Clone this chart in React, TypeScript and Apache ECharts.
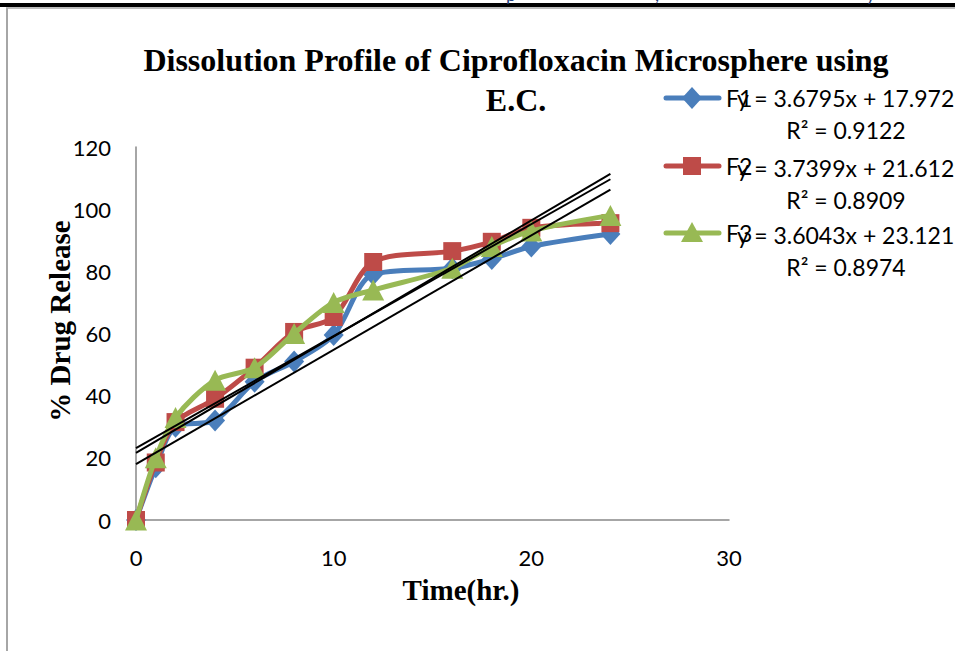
import React, { useEffect, useRef } from 'react';
import * as echarts from 'echarts';

// Sampling times (hours)
const TIME_HR = [0, 1, 2, 4, 6, 8, 10, 12, 16, 18, 20, 24];

// Cumulative % drug release for each formulation
const F1 = [0, 17, 30, 32, 44.5, 51, 59.5, 79, 81, 84, 88, 92];
const F2 = [0, 18.5, 31.5, 39, 49, 60.5, 65.3, 83, 86.5, 89.5, 94, 95.5];
const F3 = [0, 20, 33, 45, 49, 60, 70, 74, 81, 88, 93, 98];

const SERIES_NAMES = ['F1', 'F2', 'F3'];

// Linear trendlines fitted to each formulation
const TREND_SLOPE = [3.6795, 3.7399, 3.6043];
const TREND_INTERCEPT = [17.972, 21.612, 23.121];
const R_SQUARED = ['0.9122', '0.8909', '0.8974'];

const X_TICKS = [0, 10, 20, 30];
const Y_TICKS = [0, 20, 40, 60, 80, 100, 120];

const COLORS = ['#4A7EBB', '#BE4B48', '#98B954'];
const SYMBOLS = ['diamond', 'rect', 'triangle'];
const SYMBOL_SIZES: any[] = [[20, 22], 18, [22, 21]];

const SERIF = '"Liberation Serif", "Times New Roman", serif';
const SANS = 'Lato, "Noto Sans", sans-serif';

// Legend swatch: thick line with the series marker in its middle
function legendSwatch(i: number, y: number): any[] {
  const x1 = 666, x2 = 719, cx = 692;
  const color = COLORS[i];
  const items: any[] = [
    {
      type: 'line', z: 30,
      shape: { x1, y1: y, x2, y2: y },
      style: { stroke: color, lineWidth: 5, lineCap: 'round' },
    },
  ];
  if (SYMBOLS[i] === 'diamond') {
    items.push({
      type: 'polygon', z: 31,
      shape: { points: [[cx - 10, y], [cx, y - 11], [cx + 10, y], [cx, y + 11]] },
      style: { fill: color },
    });
  } else if (SYMBOLS[i] === 'rect') {
    items.push({
      type: 'rect', z: 31,
      shape: { x: cx - 9, y: y - 9, width: 18, height: 18 },
      style: { fill: color },
    });
  } else {
    items.push({
      type: 'polygon', z: 31,
      shape: { points: [[cx, y - 11], [cx + 11, y + 9], [cx - 11, y + 9]] },
      style: { fill: color },
    });
  }
  items.push({
    type: 'text', x: 726, y, z: 32,
    style: { text: SERIES_NAMES[i], fontSize: 23, fontFamily: SANS, fill: '#000', verticalAlign: 'middle' },
  });
  return items;
}

export default function App() {
  const ref = useRef<HTMLDivElement>(null);

  useEffect(() => {
    document.body.style.margin = '0';
    const chart = echarts.init(ref.current!, null, { renderer: 'svg' });

    const dataSets = [F1, F2, F3];
    const lastT = TIME_HR[TIME_HR.length - 1];

    const dataSeries = dataSets.map((vals, i) => ({
      name: SERIES_NAMES[i],
      type: 'line',
      data: TIME_HR.map((t, j) => [t, vals[j]]),
      smooth: 0.3,
      symbol: SYMBOLS[i],
      symbolSize: SYMBOL_SIZES[i],
      showAllSymbol: true,
      lineStyle: { width: 5, color: COLORS[i] },
      itemStyle: { color: COLORS[i], opacity: 1 },
      z: 2 + i,
    }));

    const trendSeries = TREND_SLOPE.map((m, i) => ({
      name: 'trend' + (i + 1),
      type: 'line',
      data: [
        [0, TREND_INTERCEPT[i]],
        [lastT, m * lastT + TREND_INTERCEPT[i]],
      ],
      symbol: 'none',
      silent: true,
      lineStyle: { width: 2, color: '#000' },
      z: 10,
    }));

    const legendY = [98, 166, 233];
    const eqY = [98, 168, 235];
    const r2Y = [130, 200, 267];

    const graphics: any[] = [
      // page frame
      { type: 'rect', shape: { x: 0, y: 3, width: 955, height: 4 }, style: { fill: '#000' }, silent: true },
      { type: 'line', shape: { x1: 6, y1: 8, x2: 955, y2: 8 }, style: { stroke: '#A6A6A6', lineWidth: 1.5 }, silent: true },
      { type: 'line', shape: { x1: 7, y1: 8, x2: 7, y2: 651 }, style: { stroke: '#A6A6A6', lineWidth: 2 }, silent: true },
      // heading text running off the top of the page
      { type: 'text', x: 506, y: 3, style: { text: 'p', fontSize: 18, fontFamily: SANS, fill: '#1F3F7A', verticalAlign: 'bottom' } },
      { type: 'text', x: 655, y: 3, style: { text: ',', fontSize: 18, fontFamily: SANS, fill: '#1F3F7A', verticalAlign: 'bottom' } },
      { type: 'text', x: 866, y: 3, style: { text: 'y', fontSize: 18, fontFamily: SANS, fill: '#1F3F7A', verticalAlign: 'bottom' } },
      // chart title
      {
        type: 'text', x: 516, y: 60,
        style: { text: 'Dissolution Profile of Ciprofloxacin Microsphere using', fontSize: 32, fontWeight: 'bold', fontFamily: SERIF, fill: '#000', align: 'center', verticalAlign: 'middle' },
      },
      {
        type: 'text', x: 516, y: 100,
        style: { text: 'E.C.', fontSize: 32, fontWeight: 'bold', fontFamily: SERIF, fill: '#000', align: 'center', verticalAlign: 'middle' },
      },
      // axis titles
      {
        type: 'text', x: 60, y: 321, rotation: Math.PI / 2,
        style: { text: '% Drug Release', fontSize: 29, fontWeight: 'bold', fontFamily: SERIF, fill: '#000', align: 'center', verticalAlign: 'middle' },
      },
      {
        type: 'text', x: 461, y: 590,
        style: { text: 'Time(hr.)', fontSize: 29, fontWeight: 'bold', fontFamily: SERIF, fill: '#000', align: 'center', verticalAlign: 'middle' },
      },
    ];

    SERIES_NAMES.forEach((_, i) => {
      graphics.push(...legendSwatch(i, legendY[i]));
    });

    TREND_SLOPE.forEach((m, i) => {
      graphics.push({
        type: 'text', x: 737, y: eqY[i], z: 33,
        style: { text: `y = ${m}x + ${TREND_INTERCEPT[i]}`, fontSize: 23, fontFamily: SANS, fill: '#000', verticalAlign: 'middle' },
      });
      graphics.push({
        type: 'text', x: 846, y: r2Y[i], z: 33,
        style: { text: `R² = ${R_SQUARED[i]}`, fontSize: 23, fontFamily: SANS, fill: '#000', align: 'center', verticalAlign: 'middle' },
      });
    });

    const option: any = {
      animation: false,
      backgroundColor: '#fff',
      grid: { left: 136, right: 226, top: 147, bottom: 131, containLabel: false },
      xAxis: {
        type: 'value',
        min: X_TICKS[0],
        max: X_TICKS[X_TICKS.length - 1],
        interval: X_TICKS[1] - X_TICKS[0],
        axisLine: { show: true, onZero: false, lineStyle: { color: '#898989', width: 1.5 } },
        axisTick: { show: false },
        splitLine: { show: false },
        axisLabel: { fontSize: 22, fontFamily: SANS, color: '#000', margin: 26 },
      },
      yAxis: {
        type: 'value',
        min: Y_TICKS[0],
        max: Y_TICKS[Y_TICKS.length - 1],
        interval: Y_TICKS[1] - Y_TICKS[0],
        axisLine: { show: true, onZero: false, lineStyle: { color: '#898989', width: 1.5 } },
        axisTick: { show: false },
        splitLine: { show: false },
        axisLabel: { fontSize: 22, fontFamily: SANS, color: '#000', margin: 25 },
      },
      series: [...dataSeries, ...trendSeries],
      graphic: graphics,
    };

    chart.setOption(option);
    return () => chart.dispose();
  }, []);

  return <div ref={ref} style={{ width: 955, height: 651 }} />;
}
